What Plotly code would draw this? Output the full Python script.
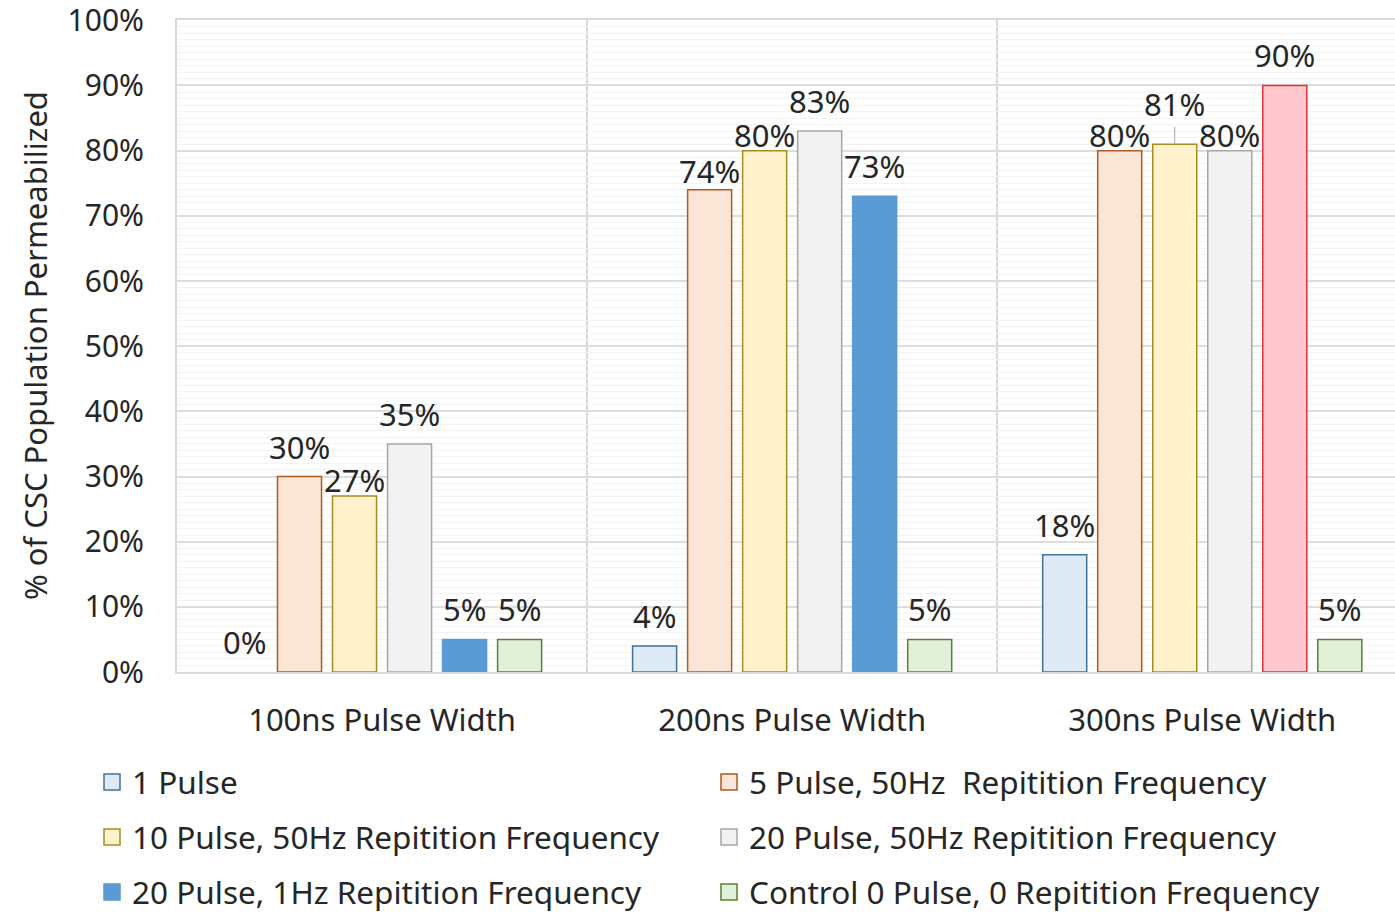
import plotly.graph_objects as go

# Category / series data
categories = ["100ns Pulse Width", "200ns Pulse Width", "300ns Pulse Width"]
series_names = [
    "1 Pulse",
    "5 Pulse, 50Hz\u00a0 Repitition Frequency",
    "10 Pulse, 50Hz Repitition Frequency",
    "20 Pulse, 50Hz Repitition Frequency",
    "20 Pulse, 1Hz Repitition Frequency",
    "Control 0 Pulse, 0 Repitition Frequency",
]
one_pulse = [0, 4, 18]
five_pulse_50hz = [30, 74, 80]
ten_pulse_50hz = [27, 80, 81]
twenty_pulse_50hz = [35, 83, 80]
twenty_pulse_1hz = [5, 73, 90]
control = [5, 5, 5]
series_values = [one_pulse, five_pulse_50hz, ten_pulse_50hz,
                 twenty_pulse_50hz, twenty_pulse_1hz, control]
y_ticks = list(range(0, 101, 10))
y_tick_text = [f"{t}%" for t in y_ticks]
y_title = "% of CSC Population Permeabilized"

# Fill / outline colours per series
fills = ["#DEEBF7", "#FBE5D6", "#FFF2CC", "#F2F2F2", "#5B9BD5", "#E2F0D9"]
lines = ["#41719C", "#AE5A21", "#A88B20", "#A6A6A6", "#5B9BD5", "#548235"]
# the 300ns bar of the 1Hz series is highlighted
hl_fill, hl_line = "#FFC7CE", "#E0303A"

FONT = "Noto Sans"
TXT = "#262626"
BARGAP = 0.195
N = len(series_names)
slot = (1 - BARGAP) / N
W, H = 1395, 912
ML, MT, MB = 177, 20, 240
plot_w = W - ML

fig = go.Figure()
x_idx = list(range(len(categories)))
for j, (name, vals) in enumerate(zip(series_names, series_values)):
    fc = [fills[j]] * len(vals)
    lc = [lines[j]] * len(vals)
    lw = [1.5 if v > 0 else 0 for v in vals]
    if j == 4:
        fc[2], lc[2] = hl_fill, hl_line
    fig.add_trace(go.Bar(
        x=x_idx, y=vals, name=name, showlegend=False,
        marker=dict(color=fc, line=dict(color=lc, width=lw)),
    ))

# legend: one box per entry, laid out as three rows of two
legend_ids = ["legend", "legend2", "legend3", "legend4", "legend5", "legend6"]
for j, name in enumerate(series_names):
    fig.add_trace(go.Scatter(
        x=[None], y=[None], mode="markers", name=name,
        marker=dict(symbol="square", size=16, color=fills[j],
                    line=dict(color=lines[j], width=1.5)),
        legend=legend_ids[j],
    ))

row_y = [782, 837, 892]
col_x = [92, 709]
legend_layout = {}
for j, lid in enumerate(legend_ids):
    legend_layout[lid] = dict(
        xref="container", yref="container",
        x=col_x[j % 2] / W, y=1 - row_y[j // 2] / H,
        xanchor="left", yanchor="middle", bgcolor="rgba(0,0,0,0)",
        font=dict(family=FONT, size=31.5, color=TXT),
    )

# value labels above bars; a few are nudged down to sit closer to their bar
label_nudge = {(0, 2): -14, (1, 1): -11, (1, 2): -14, (2, 1): -14, (2, 3): -14}
annotations = []
for j, vals in enumerate(series_values):
    for i, v in enumerate(vals):
        x = i + (j - (N - 1) / 2) * slot
        if (i, j) == (2, 2):
            annotations.append(dict(
                x=x, y=v, text=f"{v}%", showarrow=True, arrowhead=0,
                arrowwidth=1, arrowcolor="#A6A6A6", ax=0, ay=-40,
                font=dict(family=FONT, size=31, color=TXT)))
        else:
            annotations.append(dict(
                x=x, y=v, text=f"{v}%", showarrow=False, yanchor="bottom",
                yshift=7 + label_nudge.get((i, j), 0),
                font=dict(family=FONT, size=31, color=TXT)))

# vertical axis title
annotations.append(dict(
    text=y_title, textangle=-90, xref="paper", yref="paper",
    x=(35 - ML) / plot_w, y=0.5, xanchor="center", yanchor="middle",
    showarrow=False, font=dict(family=FONT, size=31, color=TXT)))

fig.update_layout(
    width=W, height=H,
    margin=dict(l=ML, r=0, t=MT, b=MB, autoexpand=False),
    paper_bgcolor="white", plot_bgcolor="white",
    barmode="group", bargap=BARGAP, bargroupgap=0.2,
    font=dict(family=FONT, color=TXT),
    annotations=annotations,
    **legend_layout,
    xaxis=dict(
        range=[-0.5, 2.47], tickmode="array", tickvals=x_idx,
        ticktext=categories, showgrid=False, zeroline=False,
        showline=True, mirror=True, linecolor="#D9D9D9", linewidth=2,
        ticks="", ticklabelstandoff=20,
        tickfont=dict(family=FONT, size=31, color=TXT),
        minor=dict(tickmode="array", tickvals=[0.5, 1.5], showgrid=True,
                   gridcolor="#D9D9D9", gridwidth=1.5, ticks=""),
    ),
    yaxis=dict(
        range=[0, 100.05], tickmode="array", tickvals=y_ticks,
        ticktext=y_tick_text, showgrid=True, gridcolor="#DDDDDD",
        gridwidth=1.5, zeroline=False, showline=True, linecolor="#D9D9D9",
        linewidth=2, ticks="", ticklabelstandoff=25,
        ticklabeloverflow="allow",
        tickfont=dict(family=FONT, size=30, color=TXT),
        minor=dict(dtick=1, showgrid=True, gridcolor="#F3F3F3",
                   gridwidth=1, ticks=""),
    ),
)

fig.write_html("out.html")
